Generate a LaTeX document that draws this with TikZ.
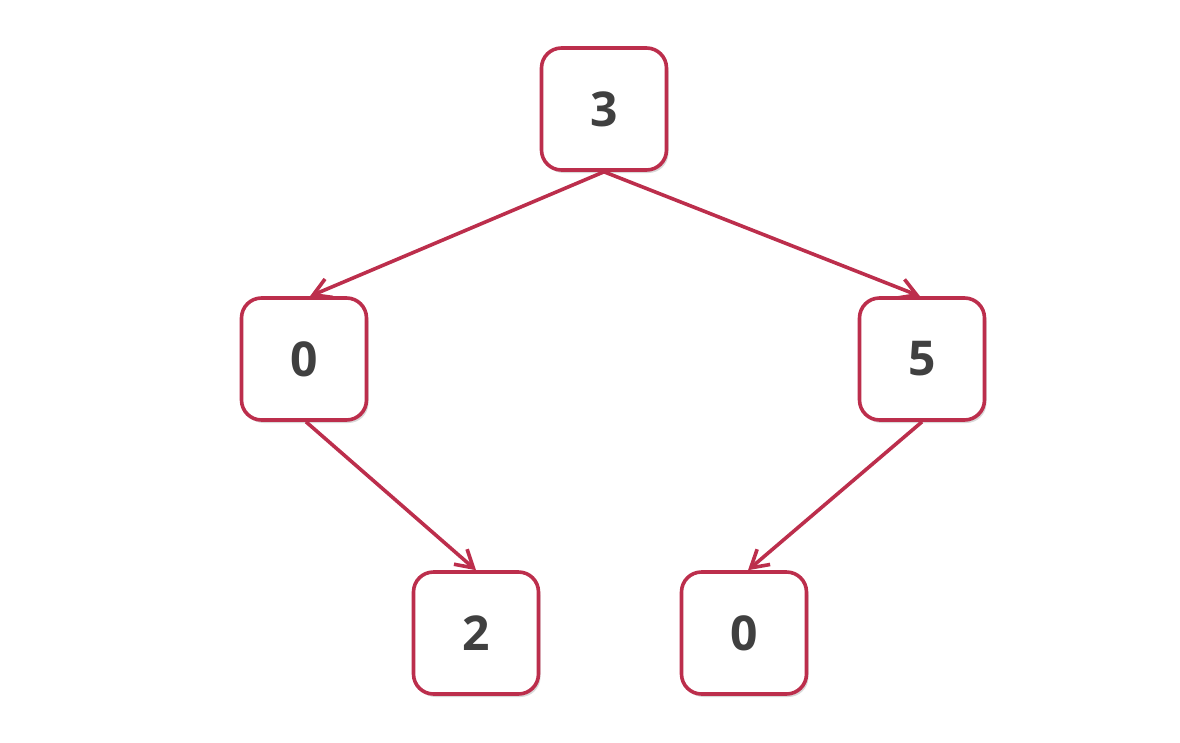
\documentclass[tikz,border=0pt]{standalone}
\usepackage{fontspec}
\setmainfont{Open Sans}
\usetikzlibrary{arrows.meta,shadows}
\definecolor{edge}{RGB}{188,46,76}
\definecolor{txt}{RGB}{64,64,64}
\tikzset{
  box/.style={draw=edge, line width=3.6pt, fill=white, rounded corners=20pt,
    minimum width=125pt, minimum height=122pt, inner sep=0pt,
    font=\fontsize{48}{48}\selectfont\bfseries, text=txt,
    drop shadow={shadow xshift=2pt, shadow yshift=-3pt, opacity=0.15, fill=black}},
  link/.style={draw=edge, line width=3.6pt,
    -{Straight Barb[length=17pt,width=20pt,line width=3.6pt]}}
}
\begin{document}
\begin{tikzpicture}[x=1pt,y=-1pt]
\useasboundingbox (0,0) rectangle (1180,742);
\node[box] (n3) at (604,109) {3};
\node[box] (a0) at (304,359) {0};
\node[box] (b5) at (922,359) {5};
\node[box] (c2) at (476,633) {2};
\node[box] (d0) at (744,633) {0};
\draw[link] (n3.south) -- ([xshift=6pt]a0.north);
\draw[link] (n3.south) -- ([xshift=-2pt]b5.north);
\draw[link] ([xshift=2pt]a0.south) -- (c2.north);
\draw[link] (b5.south) -- ([xshift=4pt]d0.north);
\end{tikzpicture}
\end{document}
